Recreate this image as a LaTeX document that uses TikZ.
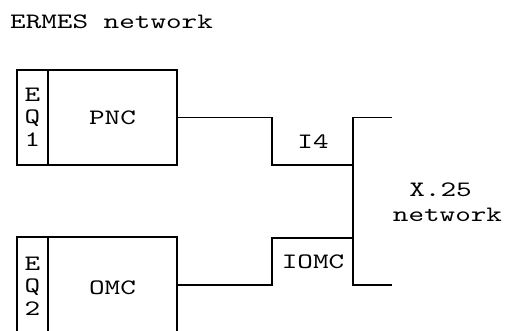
\documentclass[tikz,border=0pt]{standalone}
\usepackage{fontspec}
\setmonofont{lmmono10-regular.otf}[FakeStretch=1.35]
\usepackage{tikz}
\usetikzlibrary{calc}

\begin{document}
\begin{tikzpicture}[x=1pt,y=-1pt,
    box/.style={draw,line width=1.5pt,inner sep=0pt},
    wire/.style={line width=1.5pt},
    lbl/.style={font=\ttfamily\fontsize{22}{22}\selectfont,inner sep=0pt}]
            \clip (0,0) rectangle (507,331);
            \node[lbl,anchor=west] (title) at (10,22) {ERMES network};
            % upper unit
            \node[box,minimum width=31pt,minimum height=95pt] (eq1) at (32.5,117.5) {};
            \node[box,minimum width=129pt,minimum height=95pt] (pnc) at (112.5,117.5) {};
            \node[lbl] (e1) at (32.5,95) {E};
            \node[lbl] (q1) at (32.5,118) {Q};
            \node[lbl] (n1) at (32.5,140) {1};
            \node[lbl] (pnct) at (pnc) {PNC};
            % lower unit
            \node[box,minimum width=31pt,minimum height=102pt] (eq2) at (32.5,288) {};
            \node[box,minimum width=129pt,minimum height=102pt] (omc) at (112.5,288) {};
            \node[lbl] (e2) at (32.5,264) {E};
            \node[lbl] (q2) at (32.5,287) {Q};
            \node[lbl] (n2) at (32.5,309) {2};
            \node[lbl] (omct) at (omc) {OMC};
            % X.25 side
            \coordinate (bustop) at (353,117.5);
            \coordinate (busbot) at (353,285);
            \coordinate (stubtop) at (392,117.5);
            \coordinate (stubbot) at (392,285);
            \draw[wire] (pnc.east) -- (272,117.5) -- (272,165) -- (353,165);
            \draw[wire] ([yshift=3pt]omc.east) -- (272,285) -- (272,238) -- (353,238);
            \draw[wire] (stubtop) -- (bustop) -- (busbot) -- (stubbot);
            \node[lbl] (i4) at (313,142) {I4};
            \node[lbl] (iomc) at (313,262) {IOMC};
            \node[lbl] (x25) at (440.5,190) {X.25};
            \node[lbl] (net) at (447.5,215) {network};
        \end{tikzpicture}
\end{document}
